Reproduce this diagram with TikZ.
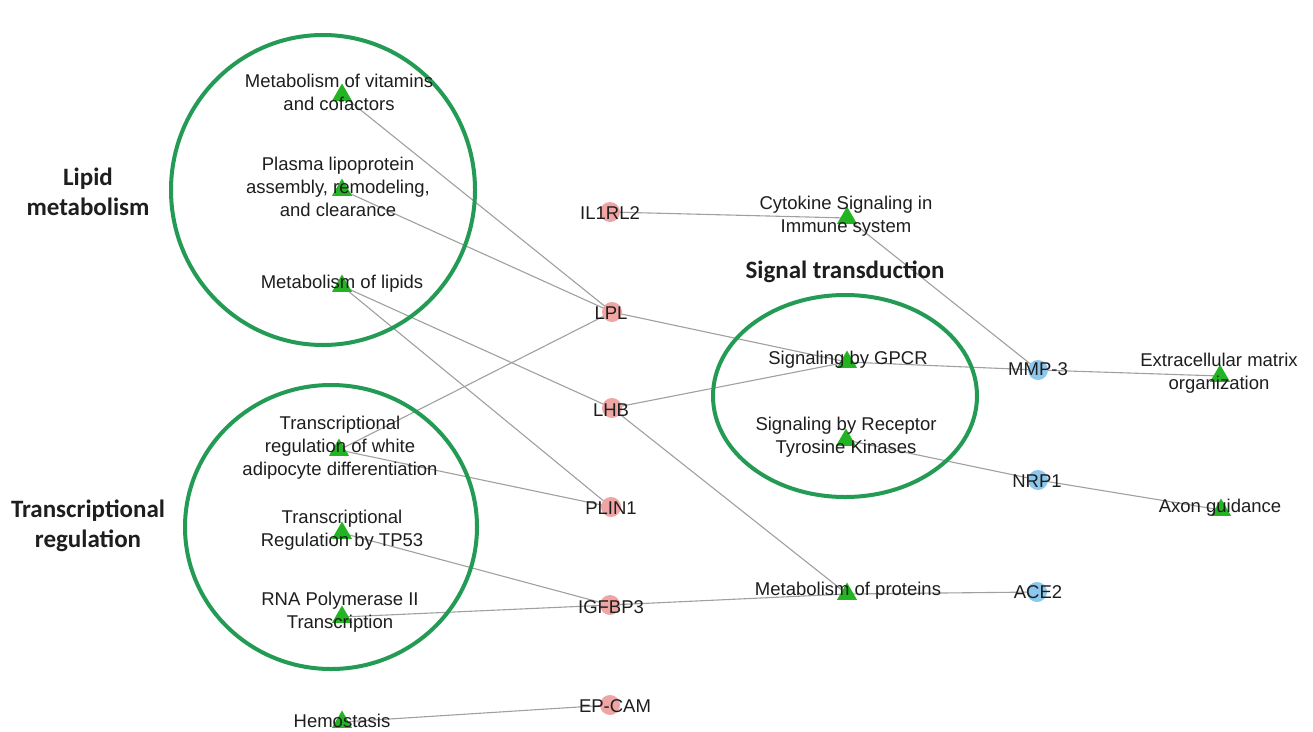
\documentclass[tikz,border=0pt]{standalone}
\usepackage{fontspec}
\setmainfont{Liberation Sans}
\newfontfamily\calib{Carlito}
\usetikzlibrary{shapes.geometric}
\pgfdeclarelayer{bg}
\pgfsetlayers{bg,main}
\definecolor{edgegray}{RGB}{160,160,160}
\definecolor{grpgreen}{RGB}{35,155,85}
\definecolor{trigreen}{RGB}{35,180,35}
\definecolor{genered}{RGB}{240,165,165}
\definecolor{geneblue}{RGB}{140,200,238}
\definecolor{txt}{RGB}{30,30,30}
\tikzset{
  tri/.style={regular polygon, regular polygon sides=3, fill=trigreen, minimum size=23pt, inner sep=0pt},
  gene/.style={circle, fill=genered, minimum size=20pt, inner sep=0pt},
  geneb/.style={circle, fill=geneblue, minimum size=20pt, inner sep=0pt},
  lab/.style={align=center, font=\fontsize{18.5}{23}\selectfont, inner sep=0pt, text=txt},
  head/.style={align=center, font=\calib\bfseries\fontsize{25}{30}\selectfont, inner sep=0pt, text=txt},
  grp/.style={draw=grpgreen, line width=4pt},
  edge/.style={draw=edgegray, line width=1.1pt}
}
\begin{document}
\begin{tikzpicture}[x=1pt,y=-1pt]
\begin{pgfonlayer}{bg}
\fill[white] (0,0) rectangle (1313,731);
\end{pgfonlayer}
\useasboundingbox (0,0) rectangle (1313,731);
% group circles
\draw[grp] (323,190) ellipse [x radius=152pt, y radius=155pt];
\draw[grp] (331,527) ellipse [x radius=146pt, y radius=142pt];
\draw[grp] (845,396) ellipse [x radius=132pt, y radius=101pt];
% pathway markers
\node[tri] (vit) at (342,95) {};
\node[tri] (plas) at (342,190) {};
\node[tri] (lip) at (342,286) {};
\node[tri] (wad) at (339,450) {};
\node[tri] (tp53) at (342,533) {};
\node[tri] (rna) at (342,617) {};
\node[tri] (hem) at (342,722) {};
\node[tri] (cyt) at (847,218) {};
\node[tri] (gpcr) at (847,362) {};
\node[tri] (rtk) at (846,440) {};
\node[tri] (prot) at (847,594) {};
\node[tri] (ecm) at (1220,376) {};
\node[tri] (axon) at (1221,510) {};
% genes
\node[gene] (il1) at (610,212) {};
\node[gene] (lpl) at (612,312) {};
\node[gene] (lhb) at (612,408) {};
\node[gene] (plin) at (611,507) {};
\node[gene] (igf) at (610,605) {};
\node[gene] (epc) at (610,705) {};
\node[geneb] (mmp) at (1038,370) {};
\node[geneb] (nrp) at (1038,480) {};
\node[geneb] (ace) at (1037,592) {};
% edges
\begin{pgfonlayer}{bg}
\draw[edge] (vit.center) -- (lpl.center);
\draw[edge] (plas.center) -- (lpl.center);
\draw[edge] (lip.center) -- (lhb.center);
\draw[edge] (lip.center) -- (plin.center);
\draw[edge] (wad.center) -- (lpl.center);
\draw[edge] (wad.center) -- (plin.center);
\draw[edge] (tp53.center) -- (igf.center);
\draw[edge] (rna.center) -- (igf.center);
\draw[edge] (hem.center) -- (epc.center);
\draw[edge] (il1.center) -- (cyt.center);
\draw[edge] (cyt.center) -- (mmp.center);
\draw[edge] (lpl.center) -- (gpcr.center);
\draw[edge] (lhb.center) -- (gpcr.center);
\draw[edge] (lhb.center) -- (prot.center);
\draw[edge] (gpcr.center) -- (mmp.center);
\draw[edge] (mmp.center) -- (ecm.center);
\draw[edge] (rtk.center) -- (nrp.center);
\draw[edge] (nrp.center) -- (axon.center);
\draw[edge] (igf.center) -- (prot.center);
\draw[edge] (prot.center) -- (ace.center);
\end{pgfonlayer}
% labels
\node[lab] (vitL) at (339,92) {Metabolism of vitamins\\and cofactors};
\node[lab] (plasL) at (338,187) {Plasma lipoprotein\\assembly, remodeling,\\and clearance};
\node[lab] (lipL) at (342,284) {Metabolism of lipids};
\node[lab] (wadL) at (340,448) {Transcriptional\\regulation of white\\adipocyte differentiation};
\node[lab] (tp53L) at (342,530) {Transcriptional\\Regulation by TP53};
\node[lab] (rnaL) at (340,612) {RNA Polymerase II\\Transcription};
\node[lab] (hemL) at (342,721) {Hemostasis};
\node[lab] (cytL) at (846,216) {Cytokine Signaling in\\Immune system};
\node[lab] (gpcrL) at (848,360) {Signaling by GPCR};
\node[lab] (rtkL) at (846,437) {Signaling by Receptor\\Tyrosine Kinases};
\node[lab] (protL) at (848,591) {Metabolism of proteins};
\node[lab] (ecmL) at (1219,373) {Extracellular matrix\\organization};
\node[lab] (axonL) at (1220,508) {Axon guidance};
\node[lab] (il1L) at (610,213) {IL1RL2};
\node[lab] (lplL) at (611,313) {LPL};
\node[lab] (lhbL) at (611,410) {LHB};
\node[lab] (plinL) at (611,508) {PLIN1};
\node[lab] (igfL) at (611,607) {IGFBP3};
\node[lab] (epcL) at (615,706) {EP-CAM};
\node[lab] (mmpL) at (1038,369) {MMP-3};
\node[lab] (nrpL) at (1037,481) {NRP1};
\node[lab] (aceL) at (1038,592) {ACE2};
% group headings
\node[head] (lipH) at (88,192) {Lipid\\metabolism};
\node[head] (trH) at (88,526) {Transcriptional\\regulation};
\node[head] (sigH) at (845,272) {Signal transduction};
\end{tikzpicture}
\end{document}
